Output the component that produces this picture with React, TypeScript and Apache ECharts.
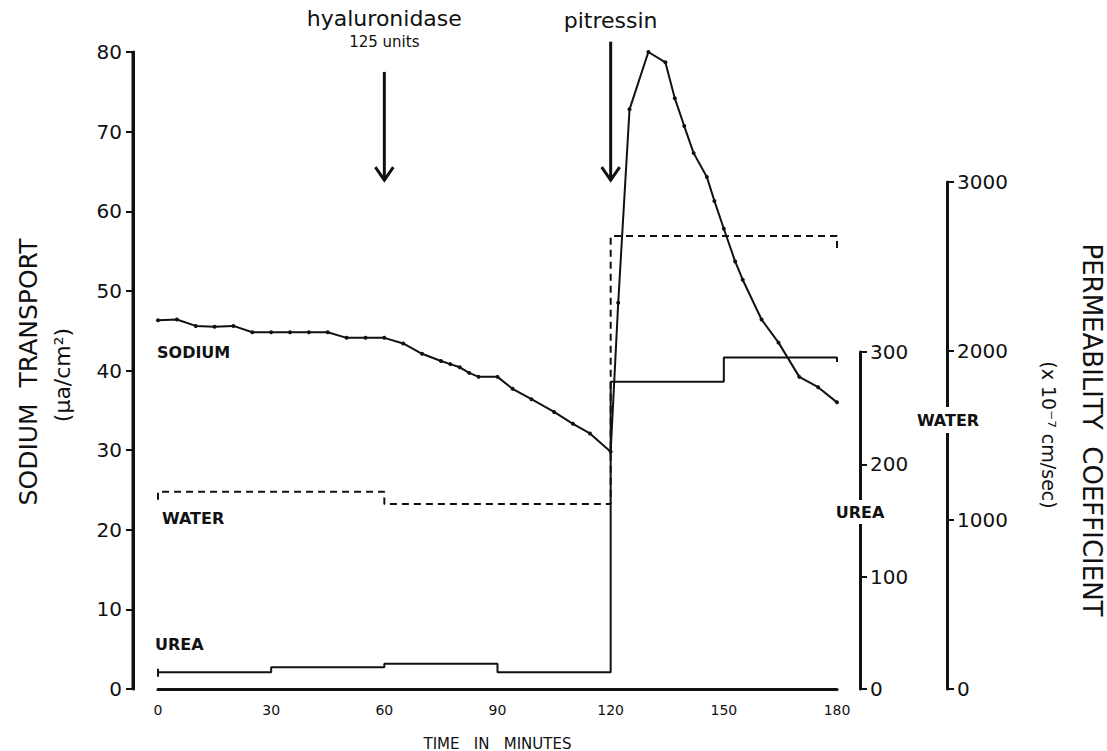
import React, { useEffect, useRef } from "react";
import * as echarts from "echarts";

// ---- data ----
const timeTicks = [0, 30, 60, 90, 120, 150, 180];

const sodiumTime = [0, 5, 10, 15, 20, 25, 30, 35, 40, 45, 50, 55, 60, 65, 70, 75, 77.5, 80, 82.5, 85, 90, 94, 99, 105, 110, 114.5, 120, 122, 125, 130, 134.5, 137, 139.5, 142, 145.5, 147.5, 150, 153, 155, 160, 164.5, 170, 175, 180];
const sodiumValue = [46.3, 46.4, 45.6, 45.5, 45.6, 44.8, 44.8, 44.8, 44.8, 44.8, 44.1, 44.1, 44.1, 43.4, 42.1, 41.2, 40.8, 40.4, 39.7, 39.2, 39.2, 37.7, 36.4, 34.8, 33.3, 32.1, 29.8, 48.5, 72.8, 80.0, 78.7, 74.2, 70.7, 67.3, 64.3, 61.3, 57.8, 53.7, 51.4, 46.4, 43.5, 39.2, 37.9, 36.0];

const waterTime = [0, 0, 60, 60, 120, 120, 180, 180];
const waterValue = [1120, 1167, 1167, 1095, 1095, 2680, 2680, 2610];

const ureaTime = [0, 0, 0, 30, 30, 60, 60, 90, 90, 120, 120, 150, 150, 180, 180];
const ureaValue = [18, 11, 14.8, 14.8, 19.3, 19.3, 22.5, 22.5, 14.8, 14.8, 273.6, 273.6, 295, 295, 291];

const sodiumTicks = { min: 0, max: 80, interval: 10 };
const ureaTicks = { min: 0, max: 300, interval: 100 };
const waterTicks = { min: 0, max: 3000, interval: 1000 };

const FONT = "DejaVu Sans";
const INK = "#111";

const zip = (a: number[], b: number[]) => a.map((v, i) => [v, b[i]]);

export default function App() {
  const ref = useRef<HTMLDivElement>(null);
  useEffect(() => {
    document.body.style.margin = "0";
    const chart = echarts.init(ref.current!, null, { renderer: "svg" });
    const hiddenX = (g: number) => ({
      type: "value", gridIndex: g, min: 0, max: 180, show: false,
      axisLine: { show: false, onZero: false }, axisTick: { show: false }, axisLabel: { show: false },
      splitLine: { show: false },
    });
    const rightAxis = (g: number, t: any, offset: number) => ({
      type: "value", gridIndex: g, position: "right", offset,
      min: t.min, max: t.max, interval: t.interval,
      axisLine: { show: true, onZero: false, lineStyle: { color: INK, width: 3 } },
      axisTick: { show: true, length: 7, lineStyle: { color: INK, width: 2 } },
      axisLabel: { color: INK, fontSize: 20, fontFamily: FONT, margin: 10, formatter: (v: number) => String(v) },
      splitLine: { show: false },
    });
    const gridBase = { left: 158, right: 270, bottom: 62, outerBoundsMode: "none", containLabel: false };
    const option: any = {
      animation: false,
      backgroundColor: "#fff",
      textStyle: { fontFamily: FONT },
      grid: [
        { ...gridBase, top: 52 },
        { ...gridBase, top: 352 },
        { ...gridBase, top: 182 },
      ],
      xAxis: [
        {
          type: "value", gridIndex: 0, min: 0, max: 180, interval: 30,
          name: "TIME   IN   MINUTES", nameLocation: "middle", nameGap: 47,
          nameTextStyle: { color: INK, fontSize: 15, fontFamily: FONT },
          axisLine: { show: true, onZero: false, lineStyle: { color: INK, width: 3 } },
          axisTick: { show: false },
          axisLabel: {
            color: INK, fontSize: 14, fontFamily: FONT, margin: 14,
            formatter: (v: number) => (timeTicks.includes(v) ? String(v) : ""),
          },
          splitLine: { show: false },
        },
        hiddenX(1),
        hiddenX(2),
      ],
      yAxis: [
        {
          type: "value", gridIndex: 0, position: "left", offset: 25,
          min: sodiumTicks.min, max: sodiumTicks.max, interval: sodiumTicks.interval,
          axisLine: { show: true, onZero: false, lineStyle: { color: INK, width: 3 } },
          axisTick: { show: true, length: 7, lineStyle: { color: INK, width: 2 } },
          axisLabel: { color: INK, fontSize: 20, fontFamily: FONT, margin: 11 },
          splitLine: { show: false },
        },
        rightAxis(1, ureaTicks, 23),
        rightAxis(2, waterTicks, 110),
      ],
      series: [
        {
          name: "SODIUM", type: "line", xAxisIndex: 0, yAxisIndex: 0,
          data: zip(sodiumTime, sodiumValue),
          symbol: "circle", symbolSize: 4, showSymbol: true,
          itemStyle: { color: INK },
          lineStyle: { color: INK, width: 2 },
        },
        {
          name: "UREA", type: "line", xAxisIndex: 1, yAxisIndex: 1,
          data: zip(ureaTime, ureaValue), symbol: "none",
          lineStyle: { color: INK, width: 2 },
        },
        {
          name: "WATER", type: "line", xAxisIndex: 2, yAxisIndex: 2,
          data: zip(waterTime, waterValue), symbol: "none",
          lineStyle: { color: INK, width: 2, type: [7, 5] },
        },
      ],
    };
    chart.setOption(option);

    const px = (t: number, v: number) => chart.convertToPixel({ gridIndex: 0 }, [t, v]) as number[];
    const arrow = (t: number, vTop: number, vTip: number) => {
      const a = px(t, vTop);
      const b = px(t, vTip);
      return [
        { type: "line", shape: { x1: a[0], y1: a[1], x2: b[0], y2: b[1] }, style: { stroke: INK, lineWidth: 3 } },
        {
          type: "polyline",
          shape: { points: [[b[0] - 9, b[1] - 13], [b[0], b[1]], [b[0] + 9, b[1] - 13]] },
          style: { stroke: INK, lineWidth: 3, fill: null },
        },
      ];
    };
    const hy = px(60, 77.5);
    const pi = px(120, 81.3);
    const axTop = px(0, sodiumTicks.max);
    const axBot = px(0, sodiumTicks.min);
    const txt = (text: string, x: number, y: number, size: number, opts: any = {}) => ({
      type: "text", x, y, rotation: opts.rotation || 0, z: 10,
      style: {
        text, fill: INK, font: `${opts.weight || "normal"} ${size}px "${FONT}"`,
        align: opts.align || "center", verticalAlign: "middle",
        textAlign: opts.align || "center", textVerticalAlign: "middle",
      },
    });
    const gap = (x: number, y: number, w: number, h: number) => ({
      type: "rect", z: 9, shape: { x: x - w / 2, y: y - h / 2, width: w, height: h }, style: { fill: "#fff" },
    });
    chart.setOption({
      graphic: [
        // left axis spine (offset from the plotting area)
        { type: "line", z: 5, shape: { x1: axTop[0] - 25, y1: axTop[1] - 1, x2: axBot[0] - 25, y2: axBot[1] + 1 }, style: { stroke: INK, lineWidth: 3 } },
        ...arrow(60, 77.5, 63.9),
        ...arrow(120, 81.3, 63.9),
        txt("hyaluronidase", hy[0], 18, 22),
        txt("125 units", hy[0], 42, 15),
        txt("pitressin", pi[0], 20, 22),
        txt("SODIUM", 157, 352, 16, { align: "left", weight: "bold" }),
        txt("WATER", 162, 518, 16, { align: "left", weight: "bold" }),
        txt("UREA", 155, 644, 16, { align: "left", weight: "bold" }),
        gap(860, 512, 70, 24),
        txt("UREA", 860, 512, 16, { weight: "bold" }),
        gap(947, 420, 90, 26),
        txt("WATER", 948, 420, 16, { weight: "bold" }),
        txt("SODIUM  TRANSPORT", 28, 372, 25, { rotation: Math.PI / 2 }),
        txt("(μa/cm²)", 62, 375, 22, { rotation: Math.PI / 2 }),
        txt("PERMEABILITY  COEFFICIENT", 1092, 430, 26, { rotation: -Math.PI / 2 }),
        txt("(x 10⁻⁷ cm/sec)", 1049, 435, 19, { rotation: -Math.PI / 2 }),
      ],
    });
    return () => chart.dispose();
  }, []);
  return <div ref={ref} style={{ width: 1107, height: 751 }} />;
}
